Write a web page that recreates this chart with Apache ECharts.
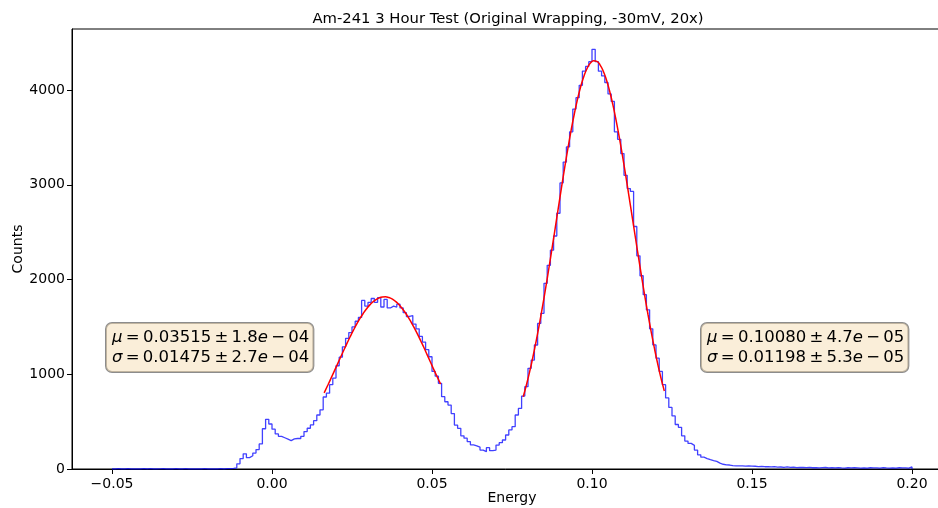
<!DOCTYPE html>
<html><head><meta charset="utf-8">
<script src="https://cdn.jsdelivr.net/npm/echarts@6/dist/echarts.min.js"></script>
<style>html,body{margin:0;padding:0;background:#fff}#c{width:938px;height:508px}</style>
</head><body><div id="c"></div>
<script>
// ---- data ----
const titleText = 'Am-241 3 Hour Test (Original Wrapping, -30mV, 20x)';
const xName = 'Energy';
const yName = 'Counts';
const binStart = -0.05;
const binWidth = 0.001;
const counts = [
  0, 3, 0, 0, 4, 0, 2, 0, 0, 3,
  0, 4, 0, 0, 2, 4, 0, 0, 0, 3,
  0, 0, 4, 0, 2, 0, 0, 0, 3, 0,
  2, 0, 0, 4, 0, 3, 5, 6, 12, 55,
  110, 160, 120, 140, 168, 205, 265, 425, 524, 475,
  420, 370, 345, 330, 315, 300, 318, 322, 322, 345,
  395, 430, 465, 510, 570, 625, 760, 800, 890, 960,
  1090, 1180, 1290, 1380, 1440, 1500, 1560, 1600, 1780, 1720,
  1760, 1800, 1760, 1810, 1710, 1790, 1700, 1720, 1710, 1740,
  1700, 1650, 1610, 1620, 1530, 1480, 1400, 1340, 1260, 1185,
  1030, 980, 904, 763, 710, 675, 585, 464, 429, 350,
  325, 290, 255, 245, 232, 200, 183, 225, 193, 200,
  253, 278, 306, 359, 412, 447, 570, 640, 770, 869,
  1063, 1150, 1309, 1537, 1643, 1960, 2150, 2310, 2460, 2700,
  3020, 3240, 3400, 3560, 3800, 3920, 4050, 4200, 4250, 4300,
  4430, 4300, 4200, 4150, 4080, 3960, 3880, 3560, 3480, 3330,
  3100, 2960, 2930, 2560, 2250, 2040, 1840, 1680, 1480, 1310,
  1170, 1030, 890, 750, 650, 560, 470, 440, 350, 295,
  270, 250, 200, 150, 125, 110, 98, 88, 80, 62,
  50, 44, 42, 36, 33, 32, 33, 30, 32, 30,
  29, 26, 28, 24, 25, 22, 24, 20, 21, 18,
  22, 17, 19, 15, 18, 16, 14, 17, 13, 15,
  12, 14, 16, 12, 13, 11, 15, 12, 10, 13,
  11, 14, 12, 10, 12, 9, 13, 11, 12, 10,
  14, 11, 9, 12, 10, 13, 11, 12, 10, 22
];
const fit1X = [0.0163,0.0175,0.0185,0.0195,0.0205,0.0215,0.0225,0.0235,0.0245,0.0255,
  0.0265,0.0275,0.0285,0.0295,0.0305,0.0315,0.0325,0.0335,0.0345,0.0355,
  0.0365,0.0375,0.0385,0.0395,0.0405,0.0415,0.0425,0.0435,0.0445,0.0455,
  0.0465,0.0475,0.0485,0.0495,0.0505,0.0515,0.0525,0.0527];
const fit1Y = [803,889,962,1036,1110,1185,1259,1331,1401,1468,
  1531,1589,1642,1689,1730,1763,1789,1807,1816,1818,
  1810,1795,1772,1741,1702,1657,1606,1549,1487,1421,
  1351,1280,1205,1130,1054,982,911,896];
const fit2X = [0.0785,0.0795,0.0805,0.0815,0.0825,0.0835,0.0845,0.0855,0.0865,0.0875,
  0.0885,0.0895,0.0905,0.0915,0.0925,0.0935,0.0945,0.0955,0.0965,0.0975,
  0.0985,0.0995,0.1005,0.1015,0.1025,0.1035,0.1045,0.1055,0.1065,0.1075,
  0.1085,0.1095,0.1105,0.1115,0.1125,0.1135,0.1145,0.1155,0.1165,0.1175,
  0.1185,0.1195,0.1205,0.1215,0.1225,0.1226];
const fit2Y = [762,887,1025,1177,1342,1519,1708,1906,2114,2327,
  2544,2762,2978,3189,3390,3580,3753,3908,4041,4150,
  4231,4285,4309,4303,4267,4202,4109,3991,3849,3686,
  3506,3311,3105,2892,2675,2457,2241,2030,1826,1631,
  1447,1275,1115,968,835,823];
const xTicks = [-0.05, 0, 0.05, 0.1, 0.15, 0.2];
const yTicks = [0, 1000, 2000, 3000, 4000];
const boxMu = ['0.03515', '0.10080'];
const boxMuErr = [['1.8', '04'], ['4.7', '05']];
const boxSigma = ['0.01475', '0.01198'];
const boxSigmaErr = [['2.7', '04'], ['5.3', '05']];

// ---- build ----
const FONT = 'DejaVu Sans';
const histPts = [[binStart, 0]];
counts.forEach((c, i) => histPts.push([binStart + i * binWidth, c]));
histPts.push([binStart + counts.length * binWidth, 0]);
const fit1 = fit1X.map((x, i) => [x, fit1Y[i]]);
const fit2 = fit2X.map((x, i) => [x, fit2Y[i]]);

const S = '\u2009';
function boxText(k) {
  return '{i|μ}' + S + '=' + S + boxMu[k] + S + '±' + S + boxMuErr[k][0] + '{i|e}' + S + '−' + S + boxMuErr[k][1] + '\n' +
         '{i|σ}' + S + '=' + S + boxSigma[k] + S + '±' + S + boxSigmaErr[k][0] + '{i|e}' + S + '−' + S + boxSigmaErr[k][1];
}
function boxEl(x, k) {
  return {
    type: 'text', left: x, top: 322, z: 100,
    style: {
      text: boxText(k), fontFamily: FONT, fontSize: 16.5, fill: '#000',
      lineHeight: 20,
      backgroundColor: 'rgba(245,222,179,0.5)', borderColor: 'rgba(0,0,0,0.45)',
      borderWidth: 1, borderRadius: 6, padding: [5, 4, 4, 6],
      rich: { i: { fontStyle: 'italic', fontFamily: FONT, fontSize: 16.5, lineHeight: 20 } }
    }
  };
}
const fmtX = v => {
  const s = Math.abs(v).toFixed(2);
  return v < -1e-9 ? '\u2212' + s : s;
};
const fmtY = v => String(Math.round(v));

const chart = echarts.init(document.getElementById('c'), null, { renderer: 'canvas' });
chart.setOption({
  animation: false,
  backgroundColor: '#fff',
  textStyle: { fontFamily: FONT },
  grid: { left: 72, right: -14, top: 29, bottom: 39, outerBoundsMode: 'none', containLabel: false,
          show: true, borderColor: '#000', borderWidth: 1, backgroundColor: 'transparent' },
  xAxis: {
    type: 'value', min: -0.0625, max: 0.2125,
    name: xName, nameLocation: 'middle', nameGap: 22, nameMoveOverlap: false,
    nameTextStyle: { fontFamily: FONT, fontSize: 14, color: '#000' },
    axisLine: { show: true, onZero: false, lineStyle: { color: '#000', width: 1 } },
    axisTick: { show: true, length: 5, customValues: xTicks, lineStyle: { color: '#000' } },
    axisLabel: { customValues: xTicks, formatter: fmtX, fontFamily: FONT, fontSize: 14, color: '#000', margin: 8 },
    splitLine: { show: false }
  },
  yAxis: {
    type: 'value', min: 0, max: 4645,
    name: yName, nameLocation: 'middle', nameGap: 47, nameMoveOverlap: false,
    nameTextStyle: { fontFamily: FONT, fontSize: 14, color: '#000' },
    axisLine: { show: true, onZero: false, lineStyle: { color: '#000', width: 1 } },
    axisTick: { show: true, length: 5, customValues: yTicks, lineStyle: { color: '#000' } },
    axisLabel: { customValues: yTicks, formatter: fmtY, fontFamily: FONT, fontSize: 14, color: '#000', margin: 7 },
    splitLine: { show: false }
  },
  series: [
    { type: 'line', data: histPts, step: 'end', symbol: 'none', lineStyle: { color: 'rgba(0,0,255,0.75)', width: 1.3 }, z: 2 },
    { type: 'line', data: fit1, symbol: 'none', smooth: true, lineStyle: { color: '#ff0000', width: 1.5 }, z: 3 },
    { type: 'line', data: fit2, symbol: 'none', smooth: true, lineStyle: { color: '#ff0000', width: 1.5 }, z: 3 }
  ],
  graphic: [
    { type: 'text', x: 508, y: 19, style: { text: titleText, fontFamily: FONT, fontSize: 14.8, fill: '#000', align: 'center', verticalAlign: 'middle' } },
    boxEl(105, 0),
    boxEl(700, 1)
  ]
});
</script>
</body></html>
